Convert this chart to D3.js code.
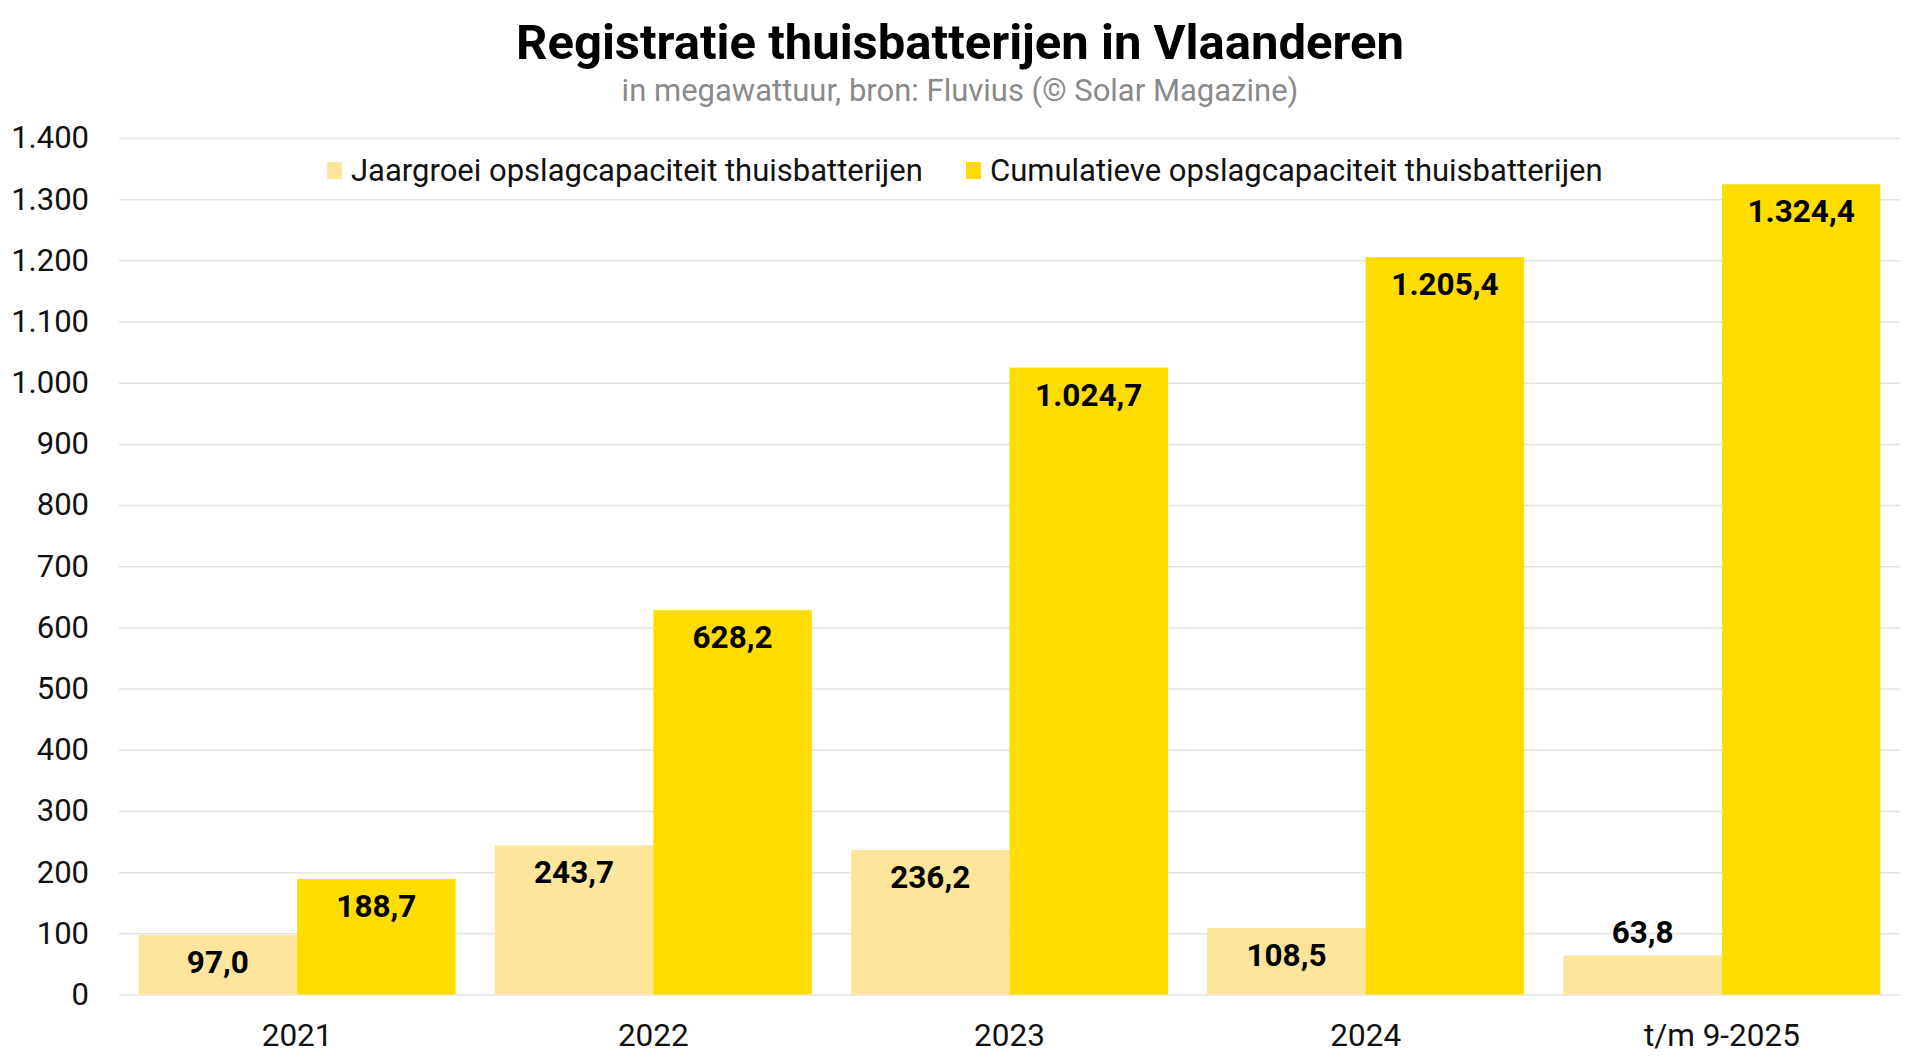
<!DOCTYPE html>
<html>
<head>
<meta charset="utf-8">
<script src="https://cdn.jsdelivr.net/npm/d3@7"></script>
<style>
  body { margin: 0; background: #fff; }
  svg { font-family: Roboto, "Noto Sans", sans-serif; }
</style>
</head>
<body>
<svg id="chart" width="1920" height="1064"></svg>
<script>
// Data
var categories = ["2021", "2022", "2023", "2024", "t/m 9-2025"];
var seriesNames = ["Jaargroei opslagcapaciteit thuisbatterijen", "Cumulatieve opslagcapaciteit thuisbatterijen"];
var jaargroei = [97.0, 243.7, 236.2, 108.5, 63.8];
var cumulatief = [188.7, 628.2, 1024.7, 1205.4, 1324.4];
var yTicks = [0, 100, 200, 300, 400, 500, 600, 700, 800, 900, 1000, 1100, 1200, 1300, 1400];

var colors = ["#fde59b", "#ffdd00"];

// Dutch number formatting (1.324,4)
var nl = d3.formatLocale({decimal: ",", thousands: ".", grouping: [3], currency: ["€", ""]});
var fmtTick = nl.format(",d"),
    fmtVal = nl.format(",.1f");

var data = categories.map(function(c, i) {
  return {cat: c, values: [jaargroei[i], cumulatief[i]]};
});

var svg = d3.select("#chart"),
    margin = {top: 138, right: 20, bottom: 70, left: 119},
    width = +svg.attr("width") - margin.left - margin.right,
    height = 994.5 - margin.top,
    g = svg.append("g").attr("transform", "translate(" + margin.left + "," + margin.top + ")");

// Title + subtitle
svg.append("text")
    .attr("x", 960)
    .attr("y", 59)
    .attr("text-anchor", "middle")
    .attr("font-size", 49)
    .attr("font-weight", "bold")
    .attr("fill", "#000")
    .text("Registratie thuisbatterijen in Vlaanderen");

svg.append("text")
    .attr("x", 960)
    .attr("y", 101)
    .attr("text-anchor", "middle")
    .attr("font-size", 31)
    .attr("fill", "#8a8a8a")
    .text("in megawattuur, bron: Fluvius (© Solar Magazine)");

// Scales
var x0 = d3.scaleBand()
    .domain(categories)
    .range([0, width])
    .paddingInner(0.11)
    .paddingOuter(0.055);

var x1 = d3.scaleBand()
    .domain([0, 1])
    .range([0, x0.bandwidth()]);

var y = d3.scaleLinear()
    .domain([0, 1400])
    .range([height, 0]);

// Gridlines + y labels
var yAxis = g.append("g")
    .call(d3.axisLeft(y).tickValues(yTicks).tickSize(-width).tickFormat(fmtTick));
yAxis.select(".domain").remove();
yAxis.selectAll(".tick line")
    .attr("stroke", "#e3e3e3")
    .attr("stroke-width", 1.5);
yAxis.selectAll(".tick text")
    .attr("x", -30)
    .attr("font-size", 31)
    .attr("font-family", "Roboto, sans-serif")
    .attr("fill", "#111");

// x labels
var xAxis = g.append("g")
    .attr("transform", "translate(0," + height + ")")
    .call(d3.axisBottom(x0).tickSize(0));
xAxis.select(".domain").remove();
xAxis.selectAll(".tick text")
    .attr("y", 29)
    .attr("dy", "0.71em")
    .attr("font-size", 31.5)
    .attr("font-family", "Roboto, sans-serif")
    .attr("fill", "#111");

// Bars
var groups = g.append("g")
  .selectAll("g")
  .data(data)
  .enter().append("g")
    .attr("transform", function(d) { return "translate(" + x0(d.cat) + ",0)"; });

groups.selectAll("rect")
  .data(function(d) { return d.values.map(function(v, i) { return {k: i, v: v}; }); })
  .enter().append("rect")
    .attr("x", function(d) { return x1(d.k); })
    .attr("y", function(d) { return y(d.v); })
    .attr("width", x1.bandwidth())
    .attr("height", function(d) { return height - y(d.v); })
    .attr("fill", function(d) { return colors[d.k]; });

// Value labels: inside the top of the bar, above it if the bar is too short
groups.selectAll("text.val")
  .data(function(d) { return d.values.map(function(v, i) { return {k: i, v: v}; }); })
  .enter().append("text")
    .attr("class", "val")
    .attr("x", function(d) { return x1(d.k) + x1.bandwidth() / 2; })
    .attr("y", function(d) {
      var top = y(d.v);
      return (height - top) < 50 ? top - 12 : top + 38;
    })
    .attr("text-anchor", "middle")
    .attr("font-size", 31.5)
    .attr("font-weight", "bold")
    .attr("fill", "#000")
    .text(function(d) { return fmtVal(d.v); });

// Legend
var legendX = [327, 966];
var legend = svg.append("g")
  .selectAll("g")
  .data(seriesNames)
  .enter().append("g")
    .attr("transform", function(d, i) { return "translate(" + legendX[i] + ",162)"; });

legend.append("rect")
    .attr("width", 15)
    .attr("height", 17)
    .attr("fill", function(d, i) { return colors[i]; });

legend.append("text")
    .attr("x", 24)
    .attr("y", 8.5)
    .attr("dy", "0.35em")
    .attr("font-size", 31)
    .attr("fill", "#111")
    .text(function(d) { return d; });
</script>
</body>
</html>
